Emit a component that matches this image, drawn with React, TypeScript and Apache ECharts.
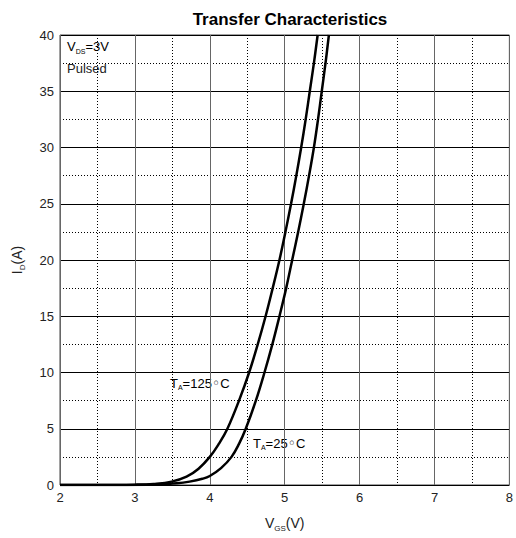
import React, { useEffect, useRef } from "react";
import * as echarts from "echarts";

const vgs125 = [2, 2.5, 3.0, 3.25, 3.49, 3.69, 3.85, 4.0, 4.12, 4.235, 4.39, 4.525, 4.64, 4.745, 4.84, 4.93, 5.01, 5.085, 5.155, 5.22, 5.28, 5.335, 5.39, 5.44];
const id125 = [0, 0, 0.03, 0.1, 0.3, 0.74, 1.45, 2.5, 3.65, 5, 7.5, 10, 12.5, 15, 17.5, 20, 22.5, 25, 27.5, 30, 32.5, 35, 37.5, 40];
const vgs25 = [2, 3.0, 3.3, 3.56, 3.73, 3.9, 4.0, 4.15, 4.29, 4.39, 4.48, 4.615, 4.73, 4.835, 4.93, 5.02, 5.1, 5.18, 5.255, 5.325, 5.39, 5.445, 5.495, 5.545, 5.59];
const id25 = [0, 0.01, 0.05, 0.15, 0.3, 0.55, 0.8, 1.5, 2.5, 3.65, 5, 7.5, 10, 12.5, 15, 17.5, 20, 22.5, 25, 27.5, 30, 32.5, 35, 37.5, 40];

const FONT = "Liberation Sans, Arial, sans-serif";

export default function App() {
  const ref = useRef<HTMLDivElement>(null);
  useEffect(() => {
    if (!ref.current) return;
    const chart = echarts.init(ref.current, null, { renderer: "svg" });
    const rich = {
      n: { fontSize: 13, fontFamily: FONT, color: "#222" },
      s: { fontSize: 7, fontFamily: FONT, color: "#222", padding: [9, 0, 0, 0] },
      d: { fontSize: 14, fontFamily: "DejaVu Sans", color: "#222" },
    };
    const richAxis = {
      n: { fontSize: 14, fontFamily: FONT, color: "#222" },
      s: { fontSize: 8, fontFamily: FONT, color: "#222", padding: [10, 0, 0, 0] },
    };
    chart.setOption({
      animation: false,
      title: {
        text: "Transfer Characteristics",
        left: 285,
        textAlign: "center",
        top: 6,
        textStyle: { fontSize: 17, fontWeight: "bold", fontFamily: FONT, color: "#000" },
      },
      grid: { left: 60, right: 6, top: 35, bottom: 53, show: true, borderColor: "#444", borderWidth: 1 },
      xAxis: {
        type: "value",
        min: 2,
        max: 8,
        interval: 1,
        name: "{n|V}{s|GS}{n|(V)}",
        nameLocation: "middle",
        nameGap: 29,
        nameTextStyle: { rich: richAxis },
        axisLine: { show: false },
        axisTick: { show: false },
        axisLabel: { fontSize: 13, fontFamily: FONT, color: "#222", margin: 6 },
        splitLine: { show: true, lineStyle: { color: "#666", width: 1 } },
        minorTick: { show: false, splitNumber: 2 },
        minorSplitLine: { show: true, lineStyle: { color: "#000", type: [1, 2], width: 1 } },
      },
      yAxis: {
        type: "value",
        min: 0,
        max: 40,
        interval: 5,
        name: "{n|I}{s|D}{n|(A)}",
        nameLocation: "middle",
        nameGap: 34,
        nameTextStyle: { rich: richAxis },
        axisLine: { show: false },
        axisTick: { show: false },
        axisLabel: { fontSize: 13, fontFamily: FONT, color: "#222", margin: 6 },
        splitLine: { show: true, lineStyle: { color: "#000", width: 1 } },
        minorTick: { show: false, splitNumber: 2 },
        minorSplitLine: { show: true, lineStyle: { color: "#000", type: [1, 2], width: 1 } },
      },
      series: [
        {
          type: "line",
          name: "125C",
          smooth: 0.4,
          symbol: "none",
          lineStyle: { color: "#000", width: 2.5 },
          data: vgs125.map((v, i) => [v, id125[i]]),
        },
        {
          type: "line",
          name: "25C",
          smooth: 0.4,
          symbol: "none",
          lineStyle: { color: "#000", width: 2.5 },
          data: vgs25.map((v, i) => [v, id25[i]]),
        },
      ],
      graphic: [
        { type: "text", left: 67, top: 40, style: { text: "{n|V}{s|DS}{n|=3V}", rich } },
        { type: "text", left: 67, top: 62, style: { text: "Pulsed", fontSize: 13, fontFamily: FONT, fill: "#222" } },
        { type: "text", left: 170, top: 376, style: { text: "{n|T}{s|A}{n|=125}{d|◦}{n|C}", rich } },
        { type: "text", left: 253, top: 436, style: { text: "{n|T}{s|A}{n|=25}{d|◦}{n|C}", rich } },
      ],
    });
    return () => chart.dispose();
  }, []);
  return <div ref={ref} style={{ width: 516, height: 538, position: "absolute", left: 0, top: 0 }} />;
}
